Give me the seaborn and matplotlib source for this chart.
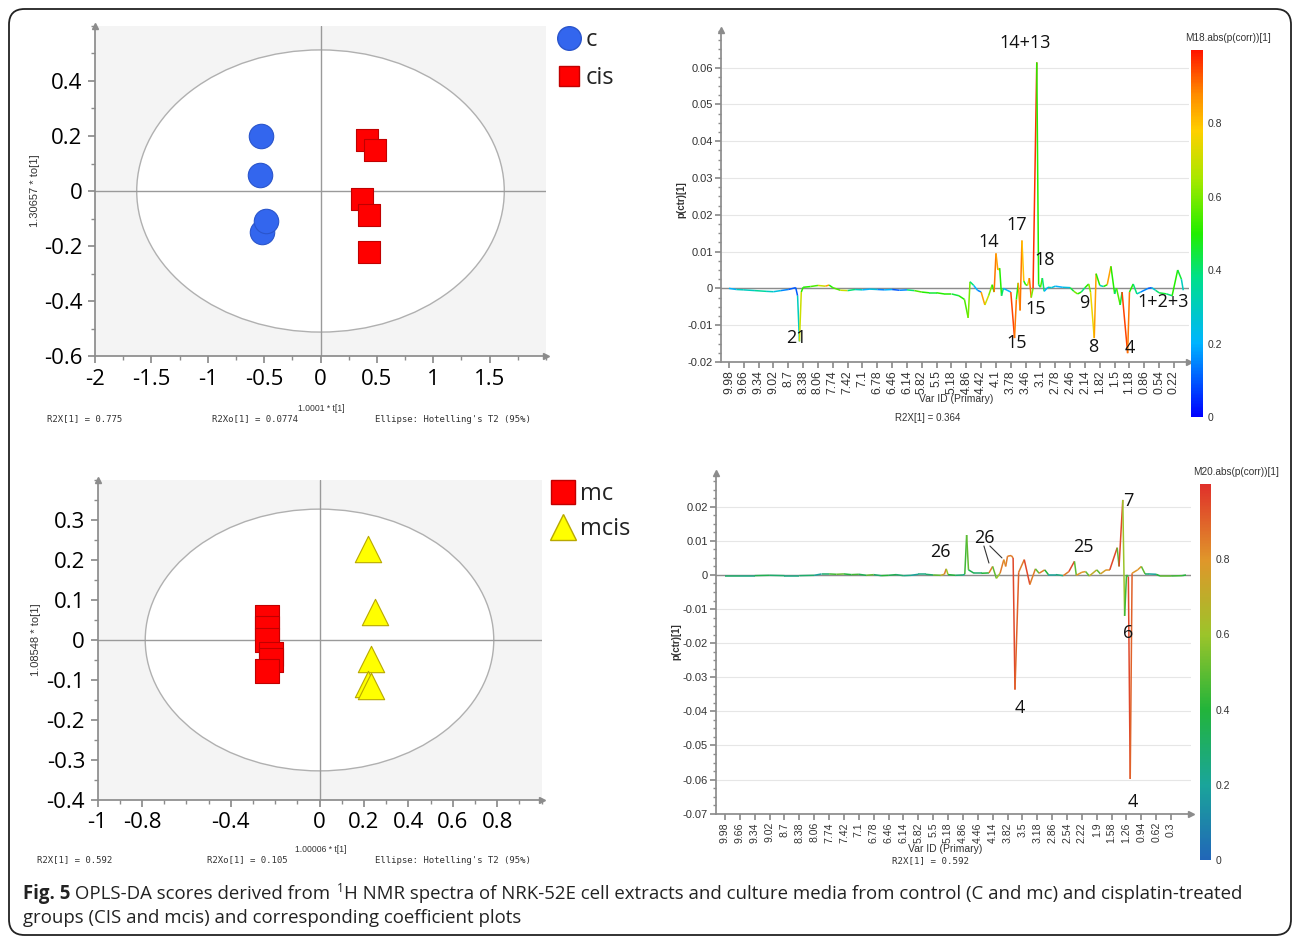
import matplotlib
matplotlib.use("Agg")
import matplotlib.pyplot as plt
import seaborn as sns
import numpy as np
from matplotlib import font_manager
from matplotlib.collections import LineCollection
from matplotlib.colors import LinearSegmentedColormap, Normalize
from matplotlib.cm import ScalarMappable
from matplotlib.patches import Ellipse, FancyBboxPatch
from matplotlib.lines import Line2D
import matplotlib.ticker as mticker

# ---------------- data: OPLS-DA scores, cell extracts (c / cis)
c_t = [-0.53, -0.535, -0.52, -0.48]
c_to = [0.20, 0.058, -0.15, -0.109]
cis_t = [0.41, 0.48, 0.37, 0.43, 0.43]
cis_to = [0.185, 0.149, -0.03, -0.087, -0.22]

# ---------------- data: OPLS-DA scores, culture media (mc / mcis)
mc_t = [-0.235, -0.235, -0.235, -0.22, -0.22, -0.235]
mc_to = [0.057, 0.03, 0.0, -0.035, -0.05, -0.077]
mcis_t = [0.22, 0.252, 0.234, 0.22, 0.232]
mcis_to = [0.228, 0.071, -0.048, -0.11, -0.115]

# ---------------- data: coefficient plot M18 (bin index, p(ctr), abs(p(corr)))
m18_bin = [0, 4, 8, 14, 20, 24, 28, 32, 36, 37, 38, 39, 40, 44, 48, 52, 54, 56,
           60, 64, 68, 72, 76, 80, 84, 88, 92, 96, 100, 104, 108, 112, 116, 120,
           124, 127, 129, 130, 132, 134, 136, 138, 140, 142, 143, 144, 145, 146,
           147, 148, 150, 152, 154, 155, 156, 157, 158, 159, 160, 161, 162, 163,
           164, 166, 167, 168, 169, 170, 172, 174, 176, 180, 184, 186, 188, 190,
           192, 194, 195, 197, 198, 200, 202, 204, 206, 208, 209, 211, 212, 215,
           216, 218, 220, 222, 226, 228, 230, 232, 236, 239, 242, 244, 245]
m18_val = [0.0, -0.0003, -0.0004, -0.0006, -0.0008, -0.0009, -0.0006, -0.0003,
           0.0002, -0.002, -0.0144, -0.001, 0.0003, 0.0005, 0.0008, 0.0006,
           0.0009, 0.0002, -0.0005, -0.0006, -0.0003, -0.0004, -0.0002, -0.0003,
           -0.0004, -0.0003, -0.0005, -0.0004, -0.0006, -0.001, -0.0012, -0.0012,
           -0.0015, -0.0015, -0.002, -0.003, -0.008, 0.0018, 0.0008, -0.0005,
           -0.001, -0.0045, -0.002, 0.001, -0.001, 0.0095, 0.005, 0.0055, -0.002,
           0.0, -0.0005, -0.001, -0.0135, -0.003, 0.0015, -0.006, 0.013, 0.002,
           0.001, 0.0008, 0.0028, -0.0025, 0.0, 0.0614, 0.001, 0.0003, 0.0028,
           -0.0008, 0.0003, 0.0002, 0.0006, 0.0003, 0.0002, -0.0008, -0.0015,
           -0.001, 0.0002, 0.0012, -0.001, -0.0135, 0.004, 0.0008, 0.0005, 0.001,
           0.006, -0.0015, 0.0001, -0.0045, -0.001, -0.0176, -0.001, 0.0012,
           -0.0015, -0.001, 0.0, 0.0002, -0.0005, -0.0012, -0.0015, -0.002,
           0.005, 0.0025, -0.0005]
m18_corr = [0.15, 0.2, 0.3, 0.3, 0.35, 0.3, 0.25, 0.15, 0.1, 0.1, 0.3, 0.7, 0.5,
            0.5, 0.55, 0.7, 0.85, 0.5, 0.55, 0.7, 0.4, 0.3, 0.2, 0.25, 0.15, 0.2,
            0.1, 0.15, 0.4, 0.55, 0.5, 0.45, 0.5, 0.5, 0.45, 0.5, 0.55, 0.6, 0.4,
            0.2, 0.15, 0.85, 0.7, 0.6, 0.5, 0.9, 0.85, 0.8, 0.5, 0.4, 0.2, 0.2,
            0.95, 0.9, 0.5, 0.85, 0.9, 0.8, 0.5, 0.5, 0.75, 0.9, 0.6, 0.97, 0.5,
            0.4, 0.55, 0.4, 0.2, 0.3, 0.25, 0.2, 0.25, 0.45, 0.6, 0.5, 0.4, 0.5,
            0.6, 0.75, 0.85, 0.5, 0.3, 0.5, 0.85, 0.5, 0.4, 0.55, 0.45, 0.95,
            0.9, 0.5, 0.4, 0.3, 0.15, 0.1, 0.25, 0.4, 0.45, 0.4, 0.5, 0.45, 0.3]
m18_ticks = ["9.98", "9.66", "9.34", "9.02", "8.7", "8.38", "8.06", "7.74",
             "7.42", "7.1", "6.78", "6.46", "6.14", "5.82", "5.5", "5.18", "4.86",
             "4.42", "4.1", "3.78", "3.46", "3.1", "2.78", "2.46", "2.14", "1.82",
             "1.5", "1.18", "0.86", "0.54", "0.22"]
m18_notes = [("14+13", 159.7, 0.0668), ("14", 140.2, 0.0125), ("17", 155.3, 0.0171),
             ("18", 170.4, 0.0076), ("15", 165.6, -0.0057), ("15", 155.3, -0.0149),
             ("21", 36.1, -0.0136), ("9", 191.5, -0.0041), ("8", 196.3, -0.016),
             ("4", 216.3, -0.0163), ("1+2+3", 234.0, -0.0038)]

# ---------------- data: coefficient plot M20
m20_bin = [0, 8, 16, 24, 32, 40, 48, 52, 56, 60, 64, 68, 72, 76, 80, 84, 88, 92,
           96, 100, 104, 108, 112, 116, 118, 119, 120, 124, 128, 129, 130, 131,
           134, 138, 142, 144, 146, 148, 150, 151, 152, 154, 155, 156, 158, 161,
           164, 167, 169, 172, 174, 178, 182, 185, 188, 189, 192, 194, 196, 200,
           202, 205, 207, 211, 212, 214, 215, 216, 217, 218, 219, 222, 224, 226,
           228, 232, 234, 240, 246, 248]
m20_val = [-0.0002, -0.0002, -0.0002, -0.0001, -0.0002, -0.0002, -0.0001, 0.0003,
           0.0003, 0.0002, 0.0003, 0.0001, 0.0002, -0.0001, 0.0001, -0.0002,
           -0.0001, 0.0001, -0.0002, -0.0001, 0.0002, 0.0002, 0.0, -0.0001,
           0.0002, 0.0018, 0.0001, -0.0001, 0.0, 0.0002, 0.0117, 0.0015, 0.0005,
           0.0005, 0.0006, 0.0025, -0.001, 0.0005, 0.0045, 0.0025, 0.0055,
           0.0057, 0.005, -0.0336, 0.0008, 0.0045, -0.0028, 0.0018, 0.0005,
           0.0015, 0.0001, 0.0001, -0.0002, 0.001, 0.004, -0.0001, 0.0008, 0.001,
           -0.0003, 0.0015, 0.0003, 0.0015, 0.0015, 0.008, 0.0025, 0.022, -0.012,
           0.0, -0.0005, -0.0598, 0.0005, 0.0015, 0.0025, 0.0003, 0.0003, 0.0002,
           -0.0003, -0.0003, -0.0002, 0.0]
m20_corr = [0.25, 0.3, 0.25, 0.35, 0.3, 0.25, 0.3, 0.2, 0.3, 0.45, 0.5, 0.4, 0.45,
            0.35, 0.5, 0.3, 0.4, 0.35, 0.3, 0.25, 0.2, 0.25, 0.3, 0.5, 0.7, 0.85,
            0.6, 0.4, 0.3, 0.2, 0.45, 0.5, 0.35, 0.3, 0.4, 0.85, 0.5, 0.6, 0.85,
            0.8, 0.85, 0.85, 0.85, 0.95, 0.9, 0.85, 0.95, 0.85, 0.5, 0.85, 0.4,
            0.2, 0.25, 0.85, 0.95, 0.5, 0.8, 0.8, 0.5, 0.7, 0.5, 0.75, 0.8, 0.95,
            0.5, 0.95, 0.6, 0.45, 0.45, 0.95, 0.9, 0.8, 0.8, 0.5, 0.3, 0.2, 0.4,
            0.5, 0.45, 0.4]
m20_ticks = ["9.98", "9.66", "9.34", "9.02", "8.7", "8.38", "8.06", "7.74",
             "7.42", "7.1", "6.78", "6.46", "6.14", "5.82", "5.5", "5.18", "4.86",
             "4.46", "4.14", "3.82", "3.5", "3.18", "2.86", "2.54", "2.22", "1.9",
             "1.58", "1.26", "0.94", "0.62", "0.3"]
m20_notes = [("26", 115.7, 0.0067), ("26", 139.3, 0.0109), ("25", 192.6, 0.0082),
             ("7", 216.8, 0.0217), ("6", 216.8, -0.017), ("4", 158.7, -0.039),
             ("4", 219.5, -0.0666)]

caption_1 = [("Fig. 5", "bold", 0), (" OPLS-DA scores derived from ", "normal", 0),
             ("1", "normal", 1),
             ("H NMR spectra of NRK-52E cell extracts and culture media from control "
              "(C and mc) and cisplatin-treated", "normal", 0)]
caption_2 = "groups (CIS and mcis) and corresponding coefficient plots"

# ---------------- style
sns.set_theme(style="white")
names = {f.name for f in font_manager.fontManager.ttflist}
SANS = "Liberation Sans" if "Liberation Sans" in names else "DejaVu Sans"
CAP = "Open Sans" if "Open Sans" in names else "DejaVu Sans"
BIGF = CAP
plt.rcParams["font.family"] = [SANS, "DejaVu Sans"]
BIG = 16

W, H = 1295, 938
fig = plt.figure(figsize=(W / 100, H / 100), dpi=100)
fig.patch.set_facecolor("white")


def fx(px):
    return px / W


def fy(py):
    return 1 - py / H


def box(l, t, r, b):
    return [fx(l), fy(b), (r - l) / W, (b - t) / H]


def arrows(ax):
    ax.plot(0, 1, "^", transform=ax.transAxes, color="#8c8c8c", ms=5, clip_on=False)
    ax.plot(1, 0, ">", transform=ax.transAxes, color="#8c8c8c", ms=5, clip_on=False)


def score_panel(rect, groups, xlim, ylim, semi, xticks, xminor, yticks, yminor):
    ax = fig.add_axes(rect)
    ax.set_facecolor("#f4f4f4")
    ax.add_patch(Ellipse((0, 0), 2 * semi[0], 2 * semi[1], facecolor="white",
                         edgecolor="#b0b0b0", lw=1.0, zorder=1))
    ax.axhline(0, color="#9a9a9a", lw=1.0, zorder=2)
    ax.axvline(0, color="#9a9a9a", lw=1.0, zorder=2)
    for g in groups:
        sns.scatterplot(x=g[0], y=g[1], marker=g[2], s=g[3], color=g[4],
                        edgecolor=g[5], linewidth=0.8, ax=ax, zorder=3, legend=False)
    ax.set_xlim(xlim)
    ax.set_ylim(ylim)
    ax.set_xticks(xticks)
    ax.set_xticklabels([f"{v:g}" for v in xticks])
    ax.set_yticks(yticks)
    ax.set_yticklabels([f"{v:g}" for v in yticks])
    ax.xaxis.set_minor_locator(mticker.MultipleLocator(xminor))
    ax.yaxis.set_minor_locator(mticker.MultipleLocator(yminor))
    for s in ["top", "right"]:
        ax.spines[s].set_visible(False)
    for s in ["left", "bottom"]:
        ax.spines[s].set_color("#8c8c8c")
    ax.tick_params(which="both", direction="out", color="#8c8c8c", left=True,
                   bottom=True, labelsize=BIG, labelcolor="black", pad=4)
    ax.tick_params(which="major", length=5)
    ax.tick_params(which="minor", length=3)
    for lab in ax.get_xticklabels() + ax.get_yticklabels():
        lab.set_family(BIGF)
    ax.set_xlabel("")
    ax.set_ylabel("")
    arrows(ax)
    return ax


# ---------------- top-left scores
score_panel(box(95, 26, 546, 356),
            [(c_t, c_to, "o", 310, "#3366ee", "#2a55cc"),
             (cis_t, cis_to, "s", 250, "#ff0000", "#c00000")],
            (-2, 2.0), (-0.6, 0.6), (1.63, 0.513),
            [-2, -1.5, -1, -0.5, 0, 0.5, 1, 1.5], 0.25,
            [-0.6, -0.4, -0.2, 0, 0.2, 0.4], 0.1)

# ---------------- bottom-left scores
score_panel(box(97.5, 480.4, 541.5, 799.6),
            [(mc_t, mc_to, "s", 300, "#ff0000", "#c00000"),
             (mcis_t, mcis_to, "^", 360, "#ffff00", "#b8a800")],
            (-1, 1.0), (-0.4, 0.4), (0.785, 0.328),
            [-1, -0.8, -0.4, 0, 0.2, 0.4, 0.6, 0.8], 0.1,
            [-0.4, -0.3, -0.2, -0.1, 0, 0.1, 0.2, 0.3], 0.05)

# legends of the score plots
for px, py, mk, ms, col, ec, lab in [(569, 38, "o", 17, "#3366ee", "#2a55cc", "c"),
                                     (569, 76, "s", 15, "#ff0000", "#c00000", "cis"),
                                     (563, 492, "s", 17, "#ff0000", "#c00000", "mc"),
                                     (563, 527, "^", 19, "#ffff00", "#b8a800", "mcis")]:
    fig.add_artist(Line2D([fx(px)], [fy(py)], marker=mk, ms=ms, color=col,
                          markeredgecolor=ec, lw=0, transform=fig.transFigure))
    fig.text(fx(px + 17), fy(py + 2), lab, fontsize=BIG + 1, family=BIGF,
             ha="left", va="center", color="#222222")

# score plot small labels
for xl, yl, yx, yy, foot_y, foots in [
        ("1.0001 * t[1]", "1.30657 * to[1]", 35, 191, 419,
         [(47, "R2X[1] = 0.775"), (212, "R2Xo[1] = 0.0774"),
          (375, "Ellipse: Hotelling's T2 (95%)")]),
        ("1.00006 * t[1]", "1.08548 * to[1]", 36, 640, 860,
         [(37, "R2X[1] = 0.592"), (207, "R2Xo[1] = 0.105"),
          (375, "Ellipse: Hotelling's T2 (95%)")])]:
    fig.text(fx(321), fy(foot_y - 11), xl, fontsize=6.2, ha="center", va="center",
             color="#333333")
    fig.text(fx(yx), fy(yy), yl, fontsize=8, rotation=90,
             ha="center", va="center", color="#333333")
    for x0, s in foots:
        fig.text(fx(x0), fy(foot_y), s, fontsize=6.5, family="DejaVu Sans Mono",
                 ha="left", va="center", color="#333333")

# ---------------- coefficient plots
cmap18 = LinearSegmentedColormap.from_list(
    "m18", [(0, "#0000ff"), (0.2, "#00b4ff"), (0.38, "#00e08a"), (0.5, "#22ee00"),
            (0.65, "#a8e800"), (0.78, "#ffd000"), (0.88, "#ff8c00"), (1.0, "#ff1400")])
cmap20 = LinearSegmentedColormap.from_list(
    "m20", [(0, "#2166b8"), (0.2, "#1aa59a"), (0.4, "#22b43a"), (0.6, "#9cc42a"),
            (0.8, "#e0962a"), (1.0, "#e0302a")])


def spectrum_panel(rect, crect, bins, vals, corr, cmap, ticks, tick_size, xlim, ylim,
                   yticks, notes, title, ylab_y, xlab_xy, r2_xy, r2_text, r2_font):
    ax = fig.add_axes(rect)
    ax.set_facecolor("white")
    for v in yticks:
        ax.axhline(v, color="#e6e6e6", lw=0.8, zorder=0)
    ax.axhline(0, color="#8c8c8c", lw=1.0, zorder=1)
    pts = np.column_stack([bins, vals])
    segs = np.stack([pts[:-1], pts[1:]], axis=1)
    lc = LineCollection(segs, cmap=cmap, norm=Normalize(0, 1), lw=1.1, zorder=2)
    lc.set_array(np.asarray(corr[1:]))
    ax.add_collection(lc)
    ax.set_xlim(xlim)
    ax.set_ylim(ylim)
    ax.set_xticks([8 * i for i in range(len(ticks))])
    ax.set_xticklabels(ticks, rotation=90, fontsize=tick_size, color="#333333")
    ax.set_yticks(yticks)
    ax.set_yticklabels([f"{v:g}" for v in yticks], fontsize=8, color="#333333")
    ax.yaxis.set_minor_locator(mticker.MultipleLocator(0.0025))
    for s in ["top", "right"]:
        ax.spines[s].set_visible(False)
    for s in ["left", "bottom"]:
        ax.spines[s].set_color("#8c8c8c")
    ax.tick_params(which="both", direction="out", color="#8c8c8c", left=True,
                   bottom=True, pad=2)
    ax.tick_params(which="major", length=4)
    ax.tick_params(which="minor", length=2)
    arrows(ax)
    for lab, b, v in notes:
        ax.text(b, v, lab, ha="center", va="center", fontsize=13,
                family=CAP, color="#111111", zorder=4)
    cax = fig.add_axes(crect)
    cb = fig.colorbar(ScalarMappable(norm=Normalize(0, 1), cmap=cmap), cax=cax)
    cb.outline.set_visible(False)
    cb.set_ticks([0, 0.2, 0.4, 0.6, 0.8])
    cb.set_ticklabels(["0", "0.2", "0.4", "0.6", "0.8"])
    cax.tick_params(length=0, labelsize=7.5, labelcolor="#333333", pad=3)
    fig.text(crect[0] + crect[2] / 2 + fx(31), crect[1] + crect[3] + 12 / H,
             title, fontsize=7.2, ha="center", va="center", color="#333333")
    fig.text(rect[0] - fx(40), fy(ylab_y), "p(ctr)[1]", rotation=90, fontsize=7,
             fontweight="bold", ha="center", va="center", color="#333333")
    fig.text(fx(xlab_xy[0]), fy(xlab_xy[1]), "Var ID (Primary)", fontsize=7.5,
             ha="center", va="center", color="#333333")
    fig.text(fx(r2_xy[0]), fy(r2_xy[1]), r2_text, fontsize=7 if r2_font == SANS else 6.6,
             family=r2_font, ha="center", va="center", color="#333333")
    return ax


spectrum_panel(box(721, 30, 1189, 362), box(1191, 50, 1203, 417),
               m18_bin, m18_val, m18_corr, cmap18, m18_ticks, 8.8, (-4.3, 248.1),
               (-0.02, 0.0702), [-0.02, -0.01, 0, 0.01, 0.02, 0.03, 0.04, 0.05, 0.06],
               m18_notes, "M18.abs(p(corr))[1]", 200, (956, 399), (928, 418),
               "R2X[1] = 0.364", SANS)
ax20 = spectrum_panel(box(716, 473, 1191, 813.7), box(1200, 484, 1211, 860),
                      m20_bin, m20_val, m20_corr, cmap20, m20_ticks, 7.6,
                      (-4.84, 250.7), (-0.07, 0.0299),
                      [-0.07, -0.06, -0.05, -0.04, -0.03, -0.02, -0.01, 0, 0.01, 0.02],
                      m20_notes, "M20.abs(p(corr))[1]", 642, (945, 849), (930, 861),
                      "R2X[1] = 0.592", "DejaVu Sans Mono")
# leader lines for the second "26"
ax20.plot([139.3, 142.0], [0.0085, 0.0035], color="#333333", lw=0.8, zorder=4)
ax20.plot([142.5, 149.0], [0.0085, 0.0050], color="#333333", lw=0.8, zorder=4)

# ---------------- caption
renderer = fig.canvas.get_renderer()
x = fx(23)
for txt, weight, sup in caption_1:
    t = fig.text(x, fy(899) + (7 / H if sup else 0), txt, fontsize=8.5 if sup else 13.4,
                 fontweight=weight, family=CAP, ha="left", va="baseline",
                 color="#222222")
    x += t.get_window_extent(renderer).width / fig.bbox.width
    if txt.endswith(" "):
        x += 2 / W
fig.text(fx(23), fy(923), caption_2, fontsize=13.4, family=CAP, ha="left",
         va="baseline", color="#222222")

# ---------------- outer frame
fig.add_artist(FancyBboxPatch((fx(9), fy(935)), (1291 - 9) / W, (935 - 9) / H,
                              boxstyle="round,pad=0,rounding_size=0.012",
                              mutation_aspect=W / H, transform=fig.transFigure,
                              facecolor="none", edgecolor="#222222", lw=1.3))

fig.savefig("out.png", dpi=100, facecolor="white")
